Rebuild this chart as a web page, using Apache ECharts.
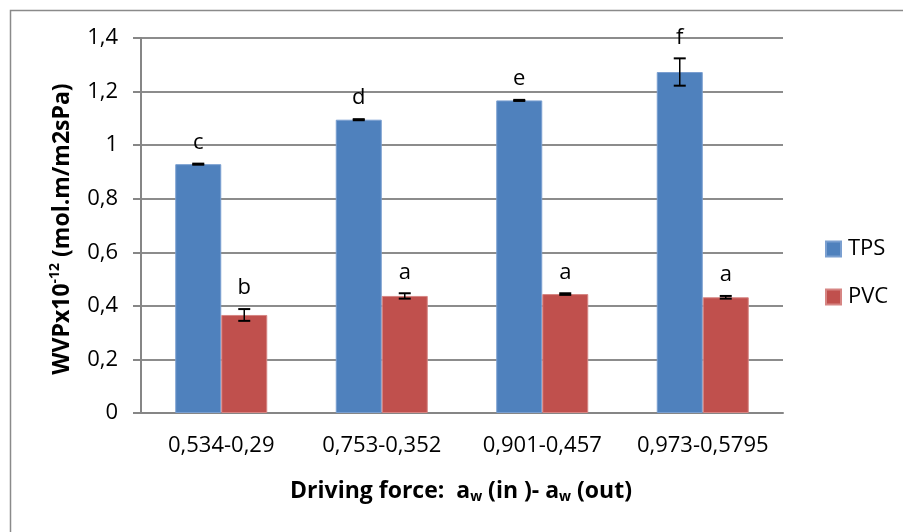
<!DOCTYPE html>
<html>
<head>
<meta charset="utf-8">
<script src="https://cdn.jsdelivr.net/npm/echarts@6/dist/echarts.min.js"></script>
<style>
  html, body { margin: 0; padding: 0; background: #fff; }
  #chart { width: 903px; height: 532px; }
</style>
</head>
<body>
<div id="chart"></div>
<script>
// Water vapour permeability of TPS and PVC films at four driving forces
const categories = ['0,534-0,29', '0,753-0,352', '0,901-0,457', '0,973-0,5795'];
const tpsValues = [0.929, 1.095, 1.167, 1.273];
const tpsErrors = [0.002, 0.002, 0.002, 0.051];
const tpsLetters = ['c', 'd', 'e', 'f'];
const pvcValues = [0.366, 0.437, 0.444, 0.432];
const pvcErrors = [0.022, 0.010, 0.003, 0.005];
const pvcLetters = ['b', 'a', 'a', 'a'];
const yTicks = [0, 0.2, 0.4, 0.6, 0.8, 1.0, 1.2, 1.4];

const FONT = 'Open Sans';
const FS = 22;
const TITLE_FS = 23;
const BAR_W = 46;
const GRID = { left: 141, right: 120, top: 38, bottom: 119 };

const chart = echarts.init(document.getElementById('chart'));

function fmt(v) {
  return String(Math.round(v * 10) / 10).replace('.', ',');
}

// Error bar with caps plus a significance letter above it
function errorSeries(values, errors, letters, side) {
  return {
    type: 'custom',
    z: 10,
    silent: true,
    data: values.map((v, i) => [i, v, errors[i]]),
    renderItem(params, api) {
      const i = api.value(0);
      const v = api.value(1);
      const e = api.value(2);
      const top = api.coord([i, v + e]);
      const bot = api.coord([i, v - e]);
      const x = top[0] + side * BAR_W / 2;
      const cap = 6;
      return {
        type: 'group',
        children: [
          { type: 'line', shape: { x1: x, y1: top[1], x2: x, y2: bot[1] }, style: { stroke: '#000', lineWidth: 1.5 } },
          { type: 'line', shape: { x1: x - cap, y1: top[1], x2: x + cap, y2: top[1] }, style: { stroke: '#000', lineWidth: 2 } },
          { type: 'line', shape: { x1: x - cap, y1: bot[1], x2: x + cap, y2: bot[1] }, style: { stroke: '#000', lineWidth: 2 } },
          {
            type: 'text', x: x, y: top[1] - 10,
            style: {
              text: letters[params.dataIndex], fill: '#000',
              fontSize: FS, fontFamily: FONT, align: 'center', verticalAlign: 'bottom'
            }
          }
        ]
      };
    }
  };
}

chart.setOption({
  animation: false,
  backgroundColor: '#fff',
  textStyle: { fontFamily: FONT },
  grid: GRID,
  legend: {
    orient: 'vertical',
    left: 820,
    top: 233,
    itemWidth: 15,
    itemHeight: 15,
    itemGap: 26,
    icon: 'rect',
    textStyle: { fontSize: FS, color: '#000', fontFamily: FONT, padding: [0, 0, 0, 2] },
    data: ['TPS', 'PVC']
  },
  xAxis: {
    type: 'category',
    data: categories,
    axisLine: { lineStyle: { color: '#868686', width: 2 } },
    axisTick: { show: false },
    axisLabel: { interval: 0, fontSize: FS, color: '#000', margin: 22, fontFamily: FONT }
  },
  yAxis: {
    type: 'value',
    min: yTicks[0],
    max: yTicks[yTicks.length - 1],
    interval: 0.2,
    axisLine: { show: true, lineStyle: { color: '#868686', width: 2 } },
    axisTick: { show: true, length: 8, lineStyle: { color: '#868686', width: 2 } },
    axisLabel: { fontSize: FS, color: '#000', margin: 23, fontFamily: FONT, formatter: fmt },
    splitLine: { lineStyle: { color: '#8c8c8c', width: 2 } }
  },
  series: [
    {
      name: 'TPS', type: 'bar', data: tpsValues, barWidth: BAR_W, barGap: '0%',
      itemStyle: { color: '#4F81BD', borderColor: '#7a9fd0', borderWidth: 1 }
    },
    {
      name: 'PVC', type: 'bar', data: pvcValues, barWidth: BAR_W, barGap: '0%',
      itemStyle: { color: '#C0504D', borderColor: '#d68583', borderWidth: 1 }
    },
    errorSeries(tpsValues, tpsErrors, tpsLetters, -1),
    errorSeries(pvcValues, pvcErrors, pvcLetters, 1)
  ],
  graphic: [
    {
      type: 'rect', left: 8, top: 8, silent: true,
      shape: { width: 910, height: 540 },
      style: { fill: 'none', stroke: '#8a8a8a', lineWidth: 1.5 }
    },
    {
      type: 'text', x: 62, y: 229, rotation: Math.PI / 2, silent: true,
      style: {
        text: '{b|WVPx10}{s|-12}{b| (mol.m/m2sPa)}',
        align: 'center', verticalAlign: 'middle',
        rich: {
          b: { fontSize: TITLE_FS, fontWeight: 'bold', fontFamily: FONT, fill: '#000', lineHeight: 30 },
          s: { fontSize: 14, fontWeight: 'bold', fontFamily: FONT, fill: '#000', lineHeight: 30, padding: [0, 0, 14, 0] }
        }
      }
    },
    {
      type: 'text', x: 461, y: 491, silent: true,
      style: {
        text: '{b|Driving force:  a}{s|w}{b| (in )- a}{s|w}{b| (out)}',
        align: 'center', verticalAlign: 'middle',
        rich: {
          b: { fontSize: TITLE_FS, fontWeight: 'bold', fontFamily: FONT, fill: '#000', lineHeight: 30 },
          s: { fontSize: 14, fontWeight: 'bold', fontFamily: FONT, fill: '#000', lineHeight: 30, padding: [12, 0, 0, 0] }
        }
      }
    }
  ]
});
</script>
</body>
</html>
